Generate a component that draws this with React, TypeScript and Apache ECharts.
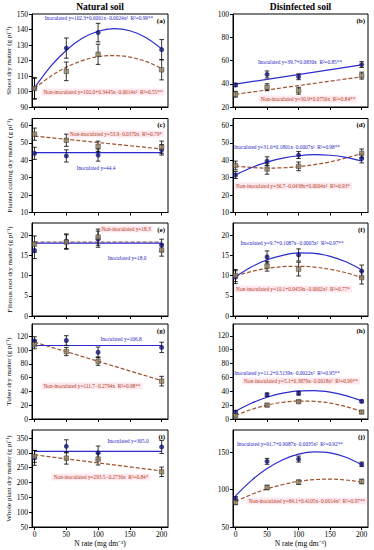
import React, { useEffect, useRef } from "react";
import * as echarts from "echarts";

// ---------- data ----------
const nRates = [0, 50, 100, 200];
const fitX = [0, 25, 50, 75, 100, 125, 150, 175, 200];
const lineX = [0, 200];

// (a) shoot, natural soil
const aInoc = [102, 128, 138, 127];
const aInocErr = [7, 6.5, 6, 6.5];
const aNon = [102, 113, 124, 114];
const aNonErr = [6.5, 6, 6.5, 6.5];
const aInocFit = [102.3, 116, 126.6, 134.3, 138.9, 140.6, 139.2, 134.9, 127.5];
const aNonFit = [102, 109.7, 115.7, 119.9, 122.5, 123.2, 122.2, 119.4, 114.9];

// (b) shoot, disinfected soil
const bInoc = [39, 48, 46, 56.5];
const bInocErr = [1.5, 3, 2.5, 2.5];
const bNon = [31, 37, 34, 47];
const bNonErr = [2.5, 3, 3, 3];
const bInocFit = [39.7, 56.3];
const bNonFit = [30.9, 46.0];

// (c) planted cutting, natural soil
const cInoc = [44, 42.5, 43, 46];
const cInocErr = [3.5, 3.5, 3.5, 3];
const cNon = [55, 51.5, 48, 47.5];
const cNonErr = [3.5, 3.5, 3, 3.5];
const cInocFit = [44.4, 44.4];
const cNonFit = [53.9, 46.5];

// (d) planted cutting, disinfected soil
const dInoc = [31.5, 39.5, 43, 41];
const dInocErr = [2, 2.5, 2, 2.5];
const dNon = [37, 35, 36.5, 44];
const dNonErr = [2.5, 3, 2.5, 2.5];
const dInocFit = [31.6, 35.7, 38.9, 41.2, 42.6, 43.2, 42.9, 41.7, 39.6];
const dNonFit = [36.7, 35.9, 35.5, 35.7, 36.3, 37.5, 39.1, 41.3, 43.9];

// (e) fibrous root, natural soil
const eInoc = [16.2, 18.5, 19, 17.5];
const eInocErr = [2, 1.8, 2, 1.5];
const eNon = [17.8, 18.3, 19.5, 16.3];
const eNonErr = [2, 1.8, 2, 1.5];
const eInocFit = [18.0, 18.0];
const eNonFit = [18.3, 18.3];

// (f) fibrous root, disinfected soil
const fInoc = [9.6, 14.6, 15.1, 11.1];
const fInocErr = [1.6, 1.5, 1.5, 1.5];
const fNon = [10, 12.3, 11.6, 9.5];
const fNonErr = [1.5, 1.2, 1.7, 1.6];
const fInocFit = [9.7, 12.1, 13.9, 15.0, 15.6, 15.5, 14.75, 13.4, 11.4];
const fNonFit = [9.9, 11.0, 11.75, 12.2, 12.3, 12.1, 11.55, 10.7, 9.5];

// (g) tuber, natural soil
const gInoc = [113.5, 114, 97, 104];
const gInocErr = [6, 7, 7.5, 7.5];
const gNon = [108, 98, 84, 55];
const gNonErr = [6, 6, 6, 7];
const gInocFit = [106.8, 106.8];
const gNonFit = [111.7, 55.8];

// (h) tuber, disinfected soil
const hInoc = [10, 35, 37, 25.5];
const hInocErr = [2, 2.5, 2.5, 2];
const hNon = [5, 20, 25, 10];
const hNonErr = [2, 2, 2, 2];
const hInocFit = [11.2, 22.7, 31.4, 37.3, 40.6, 41.0, 38.8, 33.7, 26.0];
const hNonFit = [5.1, 13.7, 20.0, 24.1, 25.9, 25.5, 22.8, 17.9, 10.7];

// (i) whole plant, natural soil
const iInoc = [283, 322, 300, 320];
const iInocErr = [25, 22, 23, 22];
const iNon = [288, 282, 279, 236];
const iNonErr = [20, 20, 20, 16];
const iInocFit = [305, 305];
const iNonFit = [293.5, 238.8];

// (j) whole plant, disinfected soil
const jInoc = [88, 138, 141, 134];
const jInocErr = [3, 4, 4, 3];
const jNon = [83, 103, 110, 111];
const jNonErr = [3, 3, 3, 3];
const jInocFit = [91.7, 112.2, 128.4, 140.2, 147.6, 150.6, 149.3, 143.5, 133.4];
const jNonFit = [84.1, 93.5, 101.1, 107.0, 111.2, 113.5, 114.2, 113.0, 110.2];

const xTicks = [0, 50, 100, 150, 200];
const columnTitles = ["Natural soil", "Disinfected soil"];
const yNames = [
  "Shoot dry matter (g pl⁻¹)",
  "Planted cutting dry matter (g pl⁻¹)",
  "Fibrous root dry matter (g pl⁻¹)",
  "Tuber dry matter (g pl⁻¹)",
  "Whole plant dry matter (g pl⁻¹)",
];
const xName = "N rate (mg dm⁻³)";

type Panel = {
  letter: string;
  yMin: number;
  yMax: number;
  yTicks: number[];
  inoc: number[];
  inocErr: number[];
  non: number[];
  nonErr: number[];
  inocFitX: number[];
  inocFit: number[];
  nonFitX: number[];
  nonFit: number[];
  inocText: string;
  nonText: string;
  inocPos: [number, number];
  nonPos: [number, number];
};

const panels: Panel[] = [
  {
    letter: "(a)", yMin: 90, yMax: 150, yTicks: [90, 100, 110, 120, 130, 140, 150],
    inoc: aInoc, inocErr: aInocErr, non: aNon, nonErr: aNonErr,
    inocFitX: fitX, inocFit: aInocFit, nonFitX: fitX, nonFit: aNonFit,
    inocText: "Inoculated y=102.3+0.6061x−0.0024x²  R²=0.99**",
    nonText: "Non-inoculated y=102.0+0.3445x−0.0014x²  R²=0.55**",
    inocPos: [99, 18], nonPos: [103, 92],
  },
  {
    letter: "(b)", yMin: 20, yMax: 100, yTicks: [20, 40, 60, 80, 100],
    inoc: bInoc, inocErr: bInocErr, non: bNon, nonErr: bNonErr,
    inocFitX: lineX, inocFit: bInocFit, nonFitX: lineX, nonFit: bNonFit,
    inocText: "Inoculated y=39.7+0.0830x  R²=0.85**",
    nonText: "Non-inoculated y=30.9+0.0756x  R²=0.84**",
    inocPos: [300, 62], nonPos: [308, 99],
  },
  {
    letter: "(c)", yMin: 10, yMax: 64, yTicks: [10, 20, 30, 40, 50, 60],
    inoc: cInoc, inocErr: cInocErr, non: cNon, nonErr: cNonErr,
    inocFitX: lineX, inocFit: cInocFit, nonFitX: lineX, nonFit: cNonFit,
    inocText: "Inoculated y=44.4",
    nonText: "Non-inoculated y=53.9−0.0370x  R²=0.79*",
    inocPos: [96, 168], nonPos: [116, 134],
  },
  {
    letter: "(d)", yMin: 10, yMax: 64, yTicks: [10, 20, 30, 40, 50, 60],
    inoc: dInoc, inocErr: dInocErr, non: dNon, nonErr: dNonErr,
    inocFitX: fitX, inocFit: dInocFit, nonFitX: fitX, nonFit: dNonFit,
    inocText: "Inoculated y=31.6+0.1801x−0.0007x²  R²=0.98**",
    nonText: "Non-inoculated y=36.7−0.0438x+0.0004x²  R²=0.93*",
    inocPos: [287, 147], nonPos: [293, 186],
  },
  {
    letter: "(e)", yMin: 0, yMax: 23, yTicks: [0, 5, 10, 15, 20],
    inoc: eInoc, inocErr: eInocErr, non: eNon, nonErr: eNonErr,
    inocFitX: lineX, inocFit: eInocFit, nonFitX: lineX, nonFit: eNonFit,
    inocText: "Inoculated y=18.0",
    nonText: "Non-inoculated y=18.3",
    inocPos: [127, 258], nonPos: [126, 229],
  },
  {
    letter: "(f)", yMin: 0, yMax: 23, yTicks: [0, 5, 10, 15, 20],
    inoc: fInoc, inocErr: fInocErr, non: fNon, nonErr: fNonErr,
    inocFitX: fitX, inocFit: fInocFit, nonFitX: fitX, nonFit: fNonFit,
    inocText: "Inoculated y=9.7+0.1087x−0.0005x²  R²=0.97**",
    nonText: "Non-inoculated y=10.1+0.0459x−0.0002x²  R²=0.77*",
    inocPos: [292, 243], nonPos: [293, 289],
  },
  {
    letter: "(g)", yMin: 0, yMax: 138, yTicks: [0, 20, 40, 60, 80, 100, 120],
    inoc: gInoc, inocErr: gInocErr, non: gNon, nonErr: gNonErr,
    inocFitX: lineX, inocFit: gInocFit, nonFitX: lineX, nonFit: gNonFit,
    inocText: "Inoculated y=106.8",
    nonText: "Non-inoculated y=111.7−0.2794x  R²=0.98**",
    inocPos: [121, 339], nonPos: [92, 386],
  },
  {
    letter: "(h)", yMin: 0, yMax: 137, yTicks: [0, 20, 40, 60, 80, 100, 120],
    inoc: hInoc, inocErr: hInocErr, non: hNon, nonErr: hNonErr,
    inocFitX: fitX, inocFit: hInocFit, nonFitX: fitX, nonFit: hNonFit,
    inocText: "Inoculated y=11.2+0.5139x−0.0022x²  R²=0.95**",
    nonText: "Non-inoculated y=5.1+0.3879x−0.0018x²  R²=0.99**",
    inocPos: [287, 373], nonPos: [301, 381],
  },
  {
    letter: "(i)", yMin: 50, yMax: 377, yTicks: [50, 100, 150, 200, 250, 300, 350],
    inoc: iInoc, inocErr: iInocErr, non: iNon, nonErr: iNonErr,
    inocFitX: lineX, inocFit: iInocFit, nonFitX: lineX, nonFit: iNonFit,
    inocText: "Inoculated y=305.0",
    nonText: "Non-inoculated y=293.5−0.2736x  R²=0.84*",
    inocPos: [128, 441], nonPos: [101, 477],
  },
  {
    letter: "(j)", yMin: 50, yMax: 180, yTicks: [50, 100, 150],
    inoc: jInoc, inocErr: jInocErr, non: jNon, nonErr: jNonErr,
    inocFitX: fitX, inocFit: jInocFit, nonFitX: fitX, nonFit: jNonFit,
    inocText: "Inoculated y=91.7+0.9087x−0.0035x²  R²=0.92**",
    nonText: "Non-inoculated y=84.1+0.4105x−0.0014x²  R²=0.97**",
    inocPos: [290, 444], nonPos: [307, 501],
  },
];

// ---------- layout ----------
const colLeft = [32, 233];
const colWidth = [136, 135];
const rowTop = [14, 118.5, 223, 324, 430];
const rowHeight = [93, 94, 93, 95, 97];

const FONT = "Liberation Serif";
const INOC_LINE = "#2b2bd0";
const INOC_MARK = "#141478";
const NON_LINE = "#a0522d";
const NON_MARK = "#9a8460";
const INOC_TEXT = "#2424c0";
const NON_TEXT = "#b04020";

function errorBarItem(params: any, api: any) {
  const x = api.value(0);
  const lo = api.value(1);
  const hi = api.value(2);
  const p1 = api.coord([x, hi]);
  const p2 = api.coord([x, lo]);
  const w = 2.3;
  const st = { stroke: "#000", lineWidth: 0.8 };
  return {
    type: "group",
    children: [
      { type: "line", shape: { x1: p1[0], y1: p1[1], x2: p2[0], y2: p2[1] }, style: st },
      { type: "line", shape: { x1: p1[0] - w, y1: p1[1], x2: p1[0] + w, y2: p1[1] }, style: st },
      { type: "line", shape: { x1: p2[0] - w, y1: p2[1], x2: p2[0] + w, y2: p2[1] }, style: st },
    ],
  };
}

function buildOption() {
  const grid: any[] = [];
  const xAxis: any[] = [];
  const yAxis: any[] = [];
  const series: any[] = [];
  const graphic: any[] = [];

  panels.forEach((p, idx) => {
    const row = Math.floor(idx / 2);
    const col = idx % 2;
    const isBottom = row === 4;
    grid.push({
      left: colLeft[col],
      top: rowTop[row],
      width: colWidth[col],
      height: rowHeight[row],
      show: true,
      borderColor: "#000",
      borderWidth: 1,
      backgroundColor: "transparent",
      containLabel: false,
    });
    xAxis.push({
      type: "value",
      gridIndex: idx,
      min: -4,
      max: 210,
      axisLine: { show: true, onZero: false, lineStyle: { color: "#000", width: 1 } },
      axisTick: { show: true, length: 3, customValues: xTicks, lineStyle: { color: "#000" } },
      axisLabel: {
        show: isBottom,
        customValues: xTicks,
        fontSize: 7.5,
        fontFamily: FONT,
        color: "#000",
        margin: 3,
      },
      splitLine: { show: false },
      name: isBottom ? xName : "",
      nameLocation: "middle",
      nameGap: 12,
      nameTextStyle: { fontSize: 7.5, fontFamily: FONT, color: "#000" },
    });
    yAxis.push({
      type: "value",
      gridIndex: idx,
      min: p.yMin,
      max: p.yMax,
      axisLine: { show: true, onZero: false, lineStyle: { color: "#000", width: 1 } },
      axisTick: { show: true, length: 3, customValues: p.yTicks, lineStyle: { color: "#000" } },
      axisLabel: {
        show: true,
        customValues: p.yTicks,
        fontSize: 7.5,
        fontFamily: FONT,
        color: "#000",
        margin: 4,
      },
      splitLine: { show: false },
      name: col === 0 ? yNames[row] : "",
      nameLocation: "middle",
      nameGap: 19,
      nameTextStyle: { fontSize: 7, fontFamily: FONT, color: "#000" },
    });

    // fitted curves
    series.push({
      type: "line",
      xAxisIndex: idx,
      yAxisIndex: idx,
      data: p.nonFitX.map((x, i) => [x, p.nonFit[i]]),
      smooth: p.nonFitX.length > 2 ? 0.35 : false,
      symbol: "none",
      lineStyle: { color: NON_LINE, width: 1.2, type: [4, 2] },
      z: 2,
      silent: true,
    });
    series.push({
      type: "line",
      xAxisIndex: idx,
      yAxisIndex: idx,
      data: p.inocFitX.map((x, i) => [x, p.inocFit[i]]),
      smooth: p.inocFitX.length > 2 ? 0.35 : false,
      symbol: "none",
      lineStyle: { color: INOC_LINE, width: 1.2 },
      z: 2,
      silent: true,
    });
    // error bars
    series.push({
      type: "custom",
      xAxisIndex: idx,
      yAxisIndex: idx,
      renderItem: errorBarItem,
      encode: { x: 0, y: [1, 2] },
      data: nRates.map((x, i) => [x, p.non[i] - p.nonErr[i], p.non[i] + p.nonErr[i]]),
      z: 3,
      silent: true,
    });
    series.push({
      type: "custom",
      xAxisIndex: idx,
      yAxisIndex: idx,
      renderItem: errorBarItem,
      encode: { x: 0, y: [1, 2] },
      data: nRates.map((x, i) => [x, p.inoc[i] - p.inocErr[i], p.inoc[i] + p.inocErr[i]]),
      z: 3,
      silent: true,
    });
    // markers
    series.push({
      type: "scatter",
      xAxisIndex: idx,
      yAxisIndex: idx,
      data: nRates.map((x, i) => [x, p.inoc[i]]),
      symbol: "circle",
      symbolSize: 5,
      itemStyle: { color: INOC_MARK },
      z: 4,
      silent: true,
    });
    series.push({
      type: "scatter",
      xAxisIndex: idx,
      yAxisIndex: idx,
      data: nRates.map((x, i) => [x, p.non[i]]),
      symbol: "rect",
      symbolSize: 4.5,
      itemStyle: { color: NON_MARK, borderColor: "#2a2a2a", borderWidth: 0.6 },
      z: 5,
      silent: true,
    });

    // equation texts
    graphic.push({
      type: "text",
      x: p.nonPos[0],
      y: p.nonPos[1],
      z: 10,
      style: {
        text: p.nonText,
        fontSize: 5.3,
        fontFamily: FONT,
        fill: NON_TEXT,
        align: "center",
        verticalAlign: "middle",
        backgroundColor: "rgba(255,190,205,0.35)",
        padding: [1, 2],
      },
    });
    graphic.push({
      type: "text",
      x: p.inocPos[0],
      y: p.inocPos[1],
      z: 10,
      style: {
        text: p.inocText,
        fontSize: 5.3,
        fontFamily: FONT,
        fill: INOC_TEXT,
        align: "center",
        verticalAlign: "middle",
      },
    });
    graphic.push({
      type: "text",
      x: colLeft[col] + colWidth[col] - 3,
      y: rowTop[row] + 6.5,
      z: 10,
      style: {
        text: p.letter,
        fontSize: 7,
        fontWeight: "bold",
        fontFamily: FONT,
        fill: "#000",
        align: "right",
        verticalAlign: "middle",
      },
    });
  });

  columnTitles.forEach((t, c) => {
    graphic.push({
      type: "text",
      x: colLeft[c] + colWidth[c] / 2,
      y: 6.5,
      style: {
        text: t,
        fontSize: 9.5,
        fontWeight: "bold",
        fontFamily: FONT,
        fill: "#000",
        align: "center",
        verticalAlign: "middle",
      },
    });
  });

  return {
    animation: false,
    backgroundColor: "#fff",
    grid,
    xAxis,
    yAxis,
    series,
    graphic,
  };
}

export default function App() {
  const ref = useRef<HTMLDivElement>(null);
  useEffect(() => {
    if (!ref.current) return;
    const chart = echarts.init(ref.current, undefined, { renderer: "svg" });
    chart.setOption(buildOption() as any);
    return () => chart.dispose();
  }, []);
  return (
    <div
      ref={ref}
      style={{ position: "fixed", left: 0, top: 0, width: 374, height: 550, background: "#fff" }}
    />
  );
}
